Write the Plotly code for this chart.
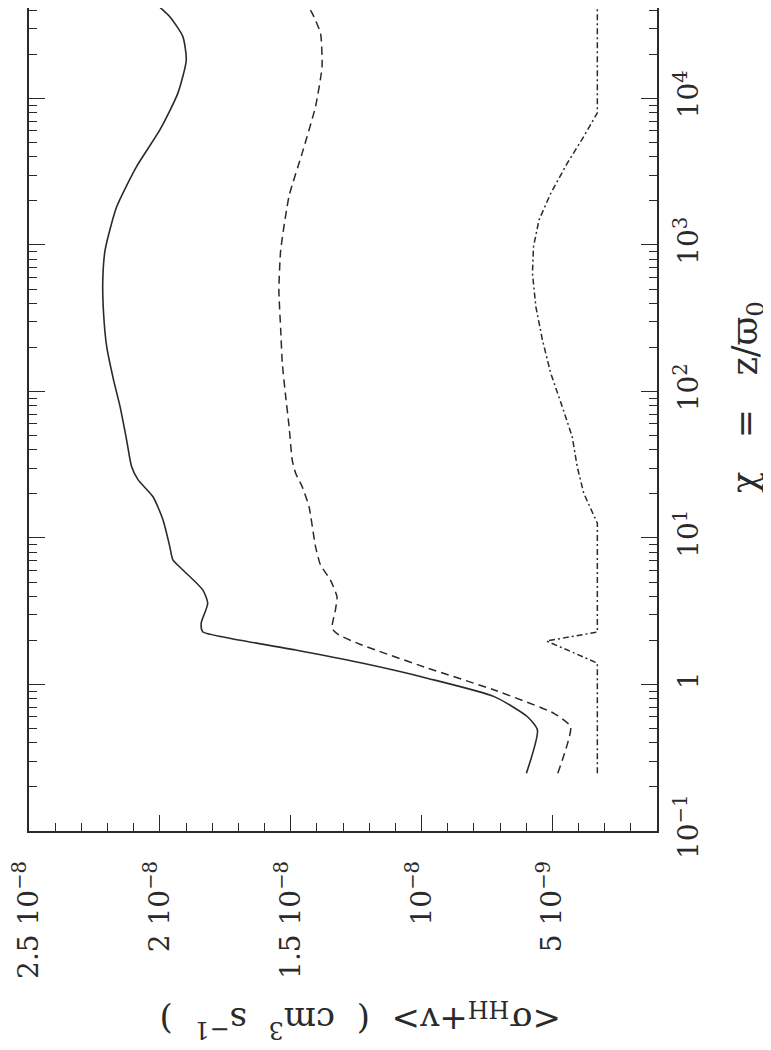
import plotly.graph_objects as go

# chi = z / varpi_0 (log axis) and <sigma_HH+v> in units of 1e-9 cm^3 s^-1
chi_solid = [0.248, 0.489, 0.602, 0.826, 1.10, 1.40, 1.72, 2.07, 2.29, 2.62, 3.58, 4.42,
             6.05, 7.08, 8.73, 13.3, 19.1, 24.9, 30.7, 46.7, 78.7, 120, 202, 342, 577,
             925, 1820, 3420, 6090, 10860, 18300, 26400, 36100, 47000]
sig_solid = [5.99, 5.57, 5.95, 7.22, 9.75, 12.28, 14.81, 17.34, 18.36, 18.42, 18.17, 18.36,
             19.12, 19.50, 19.62, 19.88, 20.26, 20.83, 21.08, 21.27, 21.52, 21.77, 22.03, 22.15, 22.18,
             22.09, 21.65, 20.89, 20.00, 19.31, 18.99, 19.12, 19.62, 20.32]

chi_dash = [0.248, 0.515, 0.636, 0.917, 1.29, 1.86, 2.18, 2.42, 3.22, 3.97, 5.16, 6.54,
            8.73, 16.4, 22.4, 27.6, 34.0, 57.5, 92.2, 156, 263, 493, 925, 2160, 4230,
            8790, 16500, 27900, 38200, 47000]
sig_dash = [4.79, 4.30, 4.94, 7.22, 9.75, 12.28, 13.16, 13.42, 13.29, 13.23, 13.48, 13.86,
            14.05, 14.30, 14.56, 14.81, 14.94, 15.06, 15.19, 15.32, 15.38, 15.45, 15.38, 15.06, 14.56,
            14.05, 13.80, 13.86, 14.18, 14.49]

chi_dot = [0.248, 1.40, 1.98, 2.28, 12.6, 20.2, 30.7, 49.1, 78.6, 133, 225, 379, 641,
           973, 1480, 2250, 3610, 5490, 7960, 47000]
sig_dot = [3.28, 3.28, 5.22, 3.28, 3.28, 3.80, 4.05, 4.24, 4.62, 5.06, 5.38, 5.63, 5.76,
           5.72, 5.51, 5.06, 4.43, 3.80, 3.28, 3.28]

sig_ticks = [2.5e-8, 2e-8, 1.5e-8, 1e-8, 5e-9]
sig_labels = ["2.5 10<sup>−8</sup>", "2 10<sup>−8</sup>", "1.5 10<sup>−8</sup>",
              "10<sup>−8</sup>", "5 10<sup>−9</sup>"]
chi_ticks = [0.1, 1, 10, 100, 1000, 10000]
chi_labels = ["10<sup>−1</sup>", "1", "10<sup>1</sup>", "10<sup>2</sup>",
              "10<sup>3</sup>", "10<sup>4</sup>"]

FONT = "DejaVu Serif"
ink = "#2a2a2a"

def scaled(vals):
    return [v * 1e-9 for v in vals]

fig = go.Figure()
fig.add_trace(go.Scatter(x=scaled(sig_solid), y=chi_solid, mode="lines",
                         line=dict(color=ink, width=1.6, shape="spline", smoothing=0.6)))
fig.add_trace(go.Scatter(x=scaled(sig_dash), y=chi_dash, mode="lines",
                         line=dict(color=ink, width=1.5, dash="8px,5px", shape="spline", smoothing=0.5)))
fig.add_trace(go.Scatter(x=scaled(sig_dot), y=chi_dot, mode="lines",
                         line=dict(color=ink, width=1.5, dash="6px,3px,2px,3px")))

# the page body has an 8px margin, so the figure is sized 8px smaller and the
# top of the chi axis starts a little lower (the reference is cropped at the top)
fig.update_xaxes(
    range=[2.5e-8, 1e-9], showgrid=False, zeroline=False,
    showline=True, linecolor=ink, linewidth=1.5, mirror=False,
    ticks="inside", ticklen=16, tickcolor=ink, tickwidth=1.2,
    tickvals=sig_ticks, ticktext=sig_labels, tickangle=-90,
    ticklabelstandoff=17, ticklabeloverflow="allow",
    minor=dict(dtick=1e-9, tick0=0, ticks="inside", ticklen=8, tickcolor=ink, tickwidth=1),
    tickfont=dict(family=FONT, size=28, color=ink),
)
fig.update_yaxes(
    type="log", range=[-1, 4.617], side="right", showgrid=False, zeroline=False,
    showline=True, linecolor=ink, linewidth=1.5, mirror="ticks",
    ticks="inside", ticklen=16, tickcolor=ink, tickwidth=1.2,
    tickvals=chi_ticks, ticktext=chi_labels, tickangle=-90,
    ticklabelstandoff=6, ticklabeloverflow="allow",
    minor=dict(dtick="D1", ticks="inside", ticklen=8, tickcolor=ink, tickwidth=1),
    tickfont=dict(family=FONT, size=28, color=ink),
)

fig.add_annotation(text="<σ<sub>HH</sub>+v>  (  cm<sup>3</sup>  s<sup>−1</sup>  )",
                   xref="paper", yref="paper", x=0.527, y=-0.2297,
                   xanchor="center", yanchor="middle", textangle=180, showarrow=False,
                   font=dict(family=FONT, size=34, color=ink))
fig.add_annotation(text="χ   =   z/ϖ<sub>0</sub>",
                   xref="paper", yref="paper", x=1.144, y=0.528,
                   xanchor="center", yanchor="middle", textangle=-90, showarrow=False,
                   font=dict(family=FONT, size=35, color=ink))

fig.update_layout(
    width=763, height=1042, showlegend=False,
    margin=dict(l=17, r=114, t=0, b=219),
    plot_bgcolor="white", paper_bgcolor="white",
)

fig.write_html("out.html")
